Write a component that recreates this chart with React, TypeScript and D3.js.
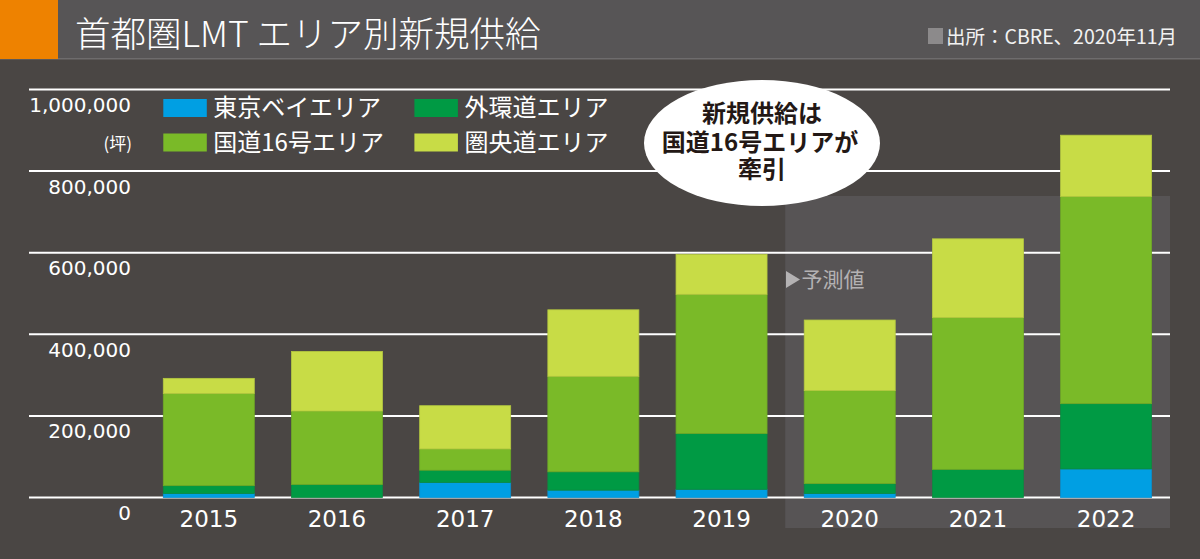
import React from "react";
import * as d3 from "d3";

const years = ["2015", "2016", "2017", "2018", "2019", "2020", "2021", "2022"];
// 単位: 坪
const tokyoBay = [10000, 0, 37000, 18000, 20000, 10000, 0, 70000];
const gaikando = [19000, 32000, 30000, 45000, 137000, 24000, 69000, 160000];
const route16 = [226000, 180000, 52000, 234000, 341000, 228000, 372000, 508000];
const kenodo = [37000, 146000, 106000, 163000, 98000, 173000, 193000, 150000];
const seriesNames = ["東京ベイエリア", "外環道エリア", "国道16号エリア", "圏央道エリア"];
const seriesKeys = ["bay", "gai", "r16", "ken"];
const seriesColors = ["#009fe3", "#009a44", "#7aba28", "#c8dc46"];
const seriesEdges = ["#0a8fcc", "#0d8a40", "#6fa826", "#b5c940"];
const yTicks = [0, 200000, 400000, 600000, 800000, 1000000];
const forecastStart = "2020";
const calloutLines = ["新規供給は", "国道16号エリアが", "牽引"];

const W = 1200;
const H = 559;
const JP = "'Noto Sans CJK JP', 'Noto Sans', sans-serif";
const NUM = "'DejaVu Sans', sans-serif";

export default function App() {
  const x = d3.scaleBand<string>().domain(years).range([144.7, 1170.2]).paddingInner(0.29).paddingOuter(0.145);
  const y = d3.scaleLinear().domain([0, 1000000]).range([497.5, 89.5]);
  const rows = years.map((yr, i) => ({ year: yr, bay: tokyoBay[i], gai: gaikando[i], r16: route16[i], ken: kenodo[i] }));
  const stack = d3.stack<any>().keys(seriesKeys);
  const layers = stack(rows);
  const fmt = d3.format(",");
  const fx = (x(forecastStart) as number) - 19;
  const calloutY = [121.5, 151, 178];

  return (
    <svg width={W} height={H} style={{ position: "absolute", left: 0, top: 0, display: "block" }}>
      <rect x={0} y={0} width={W} height={H} fill="#4a4644" />
      {/* header */}
      <rect x={0} y={0} width={W} height={59} fill="#575556" />
      <rect x={0} y={58} width={W} height={1.5} fill="#6e6c6d" />
      <rect x={0} y={0} width={58} height={59} fill="#ee8200" />
      <text x={75} y={46.5} fill="#ffffff" fontFamily={JP} fontSize={35.5} fontWeight={300}>
        首都圏LMT エリア別新規供給
      </text>
      <rect x={928} y={28} width={15} height={16} fill="#8c8a8b" />
      <text x={946} y={44} fill="#f2f2f2" fontFamily={JP} fontSize={19.5}>
        出所：CBRE、2020年11月
      </text>

      {/* forecast region */}
      <rect x={fx} y={196} width={1170 - fx} height={332} fill="#575455" />

      {/* gridlines */}
      {yTicks.map((t) => (
        <line key={t} x1={29} x2={1170} y1={y(t)} y2={y(t)} stroke="#ffffff" strokeWidth={2} />
      ))}

      {/* bars */}
      {layers.map((layer, li) => (
        <g key={layer.key} fill={seriesColors[li]} stroke={seriesEdges[li]} strokeWidth={0.8}>
          {layer.map((d, i) =>
            d[1] - d[0] > 0 ? (
              <rect
                key={i}
                x={x(years[i])}
                y={y(d[1])}
                width={x.bandwidth()}
                height={y(d[0]) - y(d[1])}
              />
            ) : null
          )}
        </g>
      ))}

      {/* y axis labels */}
      {yTicks.map((t) => (
        <text key={t} x={131} y={y(t) + 22.5} textAnchor="end" fill="#ffffff" fontFamily={NUM} fontSize={20}>
          {fmt(t)}
        </text>
      ))}
      <text x={132} y={150} textAnchor="end" fill="#ffffff" fontFamily={JP} fontSize={17}>
        (坪)
      </text>

      {/* x labels */}
      {years.map((yr) => (
        <text
          key={yr}
          x={(x(yr) as number) + x.bandwidth() / 2}
          y={527}
          textAnchor="middle"
          fill="#ffffff"
          fontFamily={NUM}
          fontSize={23}
          fontWeight={500}
        >
          {yr}
        </text>
      ))}

      {/* legend */}
      {seriesNames.map((name, i) => {
        const col = i % 2;
        const row = Math.floor(i / 2);
        const lx = col === 0 ? 163.3 : 414.4;
        const ly = row === 0 ? 99 : 133.5;
        return (
          <g key={name}>
            <rect x={lx} y={ly} width={43.5} height={18} fill={seriesColors[i]} />
            <text x={lx + 50} y={ly + 17} fill="#ffffff" fontFamily={JP} fontSize={24}>
              {name}
            </text>
          </g>
        );
      })}

      {/* forecast label */}
      <polygon points="786,271 800,279.5 786,288" fill="#b4b2b3" />
      <text x={801.5} y={286.5} fill="#b4b2b3" fontFamily={JP} fontSize={21}>
        予測値
      </text>

      {/* callout */}
      <ellipse cx={762} cy={143} rx={118} ry={63} fill="#ffffff" />
      <g fill="#231815" fontFamily={JP} fontWeight={700} fontSize={24} textAnchor="middle">
        {calloutLines.map((t, i) => (
          <text key={t} x={i === 1 ? 760 : 762} y={calloutY[i]}>
            {t}
          </text>
        ))}
      </g>
    </svg>
  );
}
